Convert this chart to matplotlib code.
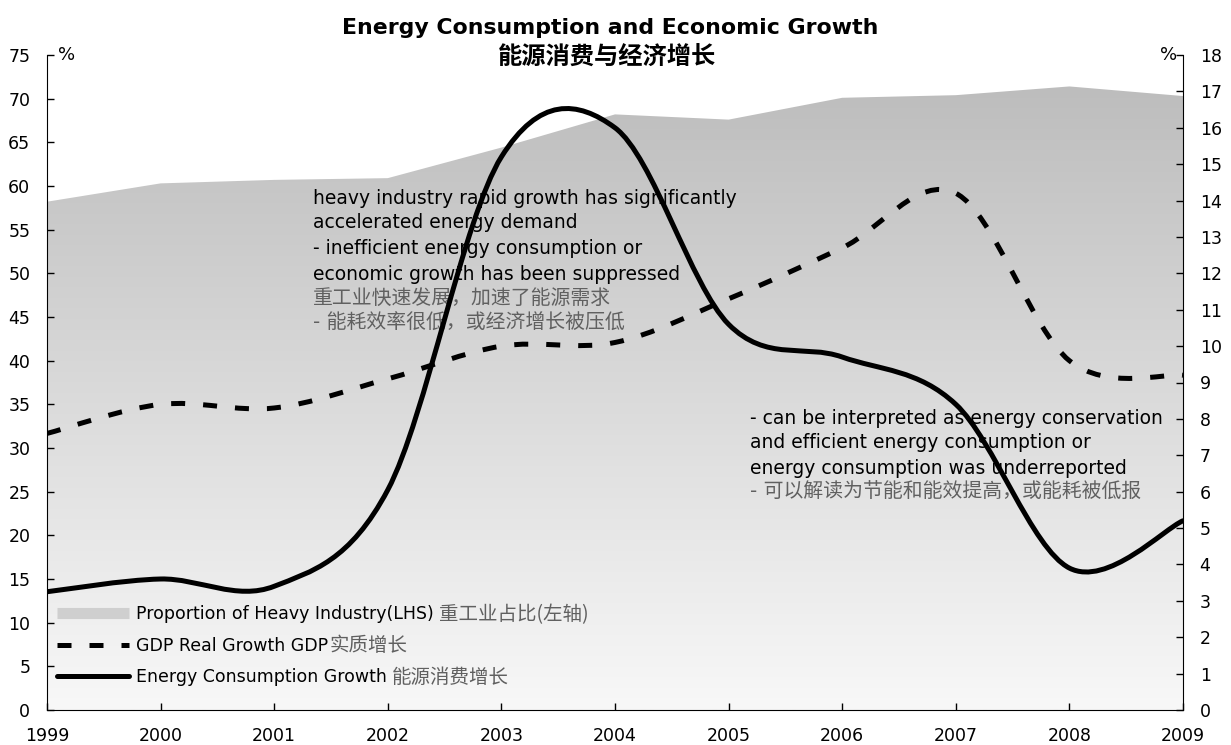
import numpy as np
import matplotlib
matplotlib.use('Agg')
import matplotlib.pyplot as plt
from matplotlib.path import Path
from matplotlib.patches import PathPatch
from matplotlib.lines import Line2D
from matplotlib.colors import LinearSegmentedColormap
from matplotlib.transforms import IdentityTransform

plt.rcParams['font.family'] = ['DejaVu Sans', 'Noto Sans CJK SC']

# data (annual values, %)
years = [1999, 2000, 2001, 2002, 2003, 2004, 2005, 2006, 2007, 2008, 2009]
heavy_industry = [58.2, 60.3, 60.7, 60.9, 64.4, 68.2, 67.6, 70.1, 70.4, 71.4, 70.3]
gdp_growth = [7.6, 8.4, 8.3, 9.1, 10.0, 10.1, 11.3, 12.7, 14.2, 9.6, 9.2]
energy_growth = [3.25, 3.6, 3.4, 6.05, 15.2, 16.0, 10.6, 9.7, 8.4, 3.9, 5.2]

legend_en = ['Proportion of Heavy Industry(LHS)', 'GDP Real Growth GDP', 'Energy Consumption Growth']
legend_zh = ['重工业占比(左轴)', '实质增长', '能源消费增长']

W, H = 1231, 745
ZH_GRAY = '#606060'


def smooth_path(x, y):
    # excel style smoothed line: cubic bezier through every point (catmull-rom)
    x = np.asarray(x, float)
    y = np.asarray(y, float)
    xp = np.r_[x[0], x, x[-1]]
    yp = np.r_[y[0], y, y[-1]]
    verts = [(x[0], y[0])]
    codes = [Path.MOVETO]
    for i in range(len(x) - 1):
        c1 = (xp[i + 1] + (xp[i + 2] - xp[i]) / 6, yp[i + 1] + (yp[i + 2] - yp[i]) / 6)
        c2 = (xp[i + 2] - (xp[i + 3] - xp[i + 1]) / 6, yp[i + 2] - (yp[i + 3] - yp[i + 1]) / 6)
        verts += [c1, c2, (x[i + 1], y[i + 1])]
        codes += [Path.CURVE4] * 3
    return Path(verts, codes)


fig = plt.figure(figsize=(W / 100, H / 100), dpi=100)
ax = fig.add_axes([47 / W, 1 - 710 / H, (1183 - 47) / W, (710 - 55) / H])
ax2 = ax.twinx()

# gradient area for heavy industry
poly = ax.fill_between(years, heavy_industry, 0, color='none', lw=0)
cmap = LinearSegmentedColormap.from_list('grey_grad', ['#f8f8f8', '#bdbdbd'])
grad = np.linspace(0, 1, 256).reshape(-1, 1)
im = ax.imshow(grad, extent=[years[0], years[-1], 0, max(heavy_industry)], origin='lower',
               cmap=cmap, aspect='auto', zorder=1, interpolation='bilinear')
im.set_clip_path(poly.get_paths()[0], transform=ax.transData)

ax.set_xlim(years[0], years[-1])
ax.set_ylim(0, 75)
ax2.set_ylim(0, 18)
ax.set_xticks(years)
ax.set_yticks(range(0, 76, 5))
ax2.set_yticks(range(0, 19))

lw = 3.6
dash = (0, (2.8, 3.6))
ax2.add_patch(PathPatch(smooth_path(years, gdp_growth), fill=False, edgecolor='black',
                        lw=lw, linestyle=dash, capstyle='butt', zorder=3))
ax2.add_patch(PathPatch(smooth_path(years, energy_growth), fill=False, edgecolor='black',
                        lw=lw, capstyle='round', zorder=4))

# axes styling
for a in (ax, ax2):
    a.spines['top'].set_visible(False)
ax.spines['right'].set_visible(False)
ax2.spines['left'].set_visible(False)
ax2.spines['bottom'].set_visible(False)
ax.tick_params(axis='y', direction='in', length=5, width=1, labelsize=12.5, pad=12)
ax.tick_params(axis='x', direction='in', length=5, width=1, labelsize=12.5, pad=12)
ax2.tick_params(axis='y', direction='in', length=5, width=1, labelsize=12.5, pad=12)

ax.text(58 / W, 1 - 55 / H, '%', transform=fig.transFigure, fontsize=13, ha='left', va='center')
ax.text(1177 / W, 1 - 55 / H, '%', transform=fig.transFigure, fontsize=13, ha='right', va='center')

# title
fig.text(610 / W, 1 - 28 / H, 'Energy Consumption and Economic Growth', fontsize=15.8,
         fontweight='bold', ha='center', va='center')
fig.text(607 / W, 1 - 58 / H, '能源消费与经济增长', fontsize=17.5, fontweight='bold',
         family='Noto Sans CJK SC', ha='center', va='center')

# annotations (drawn with ax so the lines go over them)
notes1 = [('heavy industry rapid growth has significantly', 198),
          ('accelerated energy demand', 223),
          ('- inefficient energy consumption or', 249),
          ('economic growth has been suppressed', 274)]
notes1_zh = [('重工业快速发展，加速了能源需求', 298),
             ('- 能耗效率很低，或经济增长被压低', 323)]
notes2 = [('- can be interpreted as energy conservation', 418),
          ('and efficient energy consumption or', 443),
          ('energy consumption was underreported', 468)]
notes2_zh = [('- 可以解读为节能和能效提高，或能耗被低报', 492)]

for x0, en, zh in ((313, notes1, notes1_zh), (750, notes2, notes2_zh)):
    for s, yy in en:
        ax.text(x0 / W, 1 - yy / H, s, transform=fig.transFigure, fontsize=13.5,
                ha='left', va='center', zorder=5)
    for s, yy in zh:
        ax.text(x0 / W, 1 - yy / H, s, transform=fig.transFigure, fontsize=14.3,
                color=ZH_GRAY, ha='left', va='center', zorder=5)

# legend
handles = [Line2D([], [], color='#cfcfcf', lw=8, solid_capstyle='butt'),
           Line2D([], [], color='black', lw=lw, linestyle=dash, dash_capstyle='butt'),
           Line2D([], [], color='black', lw=lw, solid_capstyle='round')]
leg = ax2.legend(handles, legend_en, loc='upper left', bbox_to_anchor=(0.009, 0.16),
                 frameon=False, fontsize=12.5, handlelength=4.15, handletextpad=0.4,
                 labelspacing=0.78, borderpad=0, borderaxespad=0)

fig.canvas.draw()
r = fig.canvas.get_renderer()
for t, zh in zip(leg.get_texts(), legend_zh):
    bb = t.get_window_extent(r)
    gap = 1 if zh == '实质增长' else 5
    ax2.text(bb.x1 + gap, (bb.y0 + bb.y1) / 2, zh, transform=IdentityTransform(),
             fontsize=14, color=ZH_GRAY, family='Noto Sans CJK SC', ha='left', va='center')

fig.savefig('out.png', dpi=100)
